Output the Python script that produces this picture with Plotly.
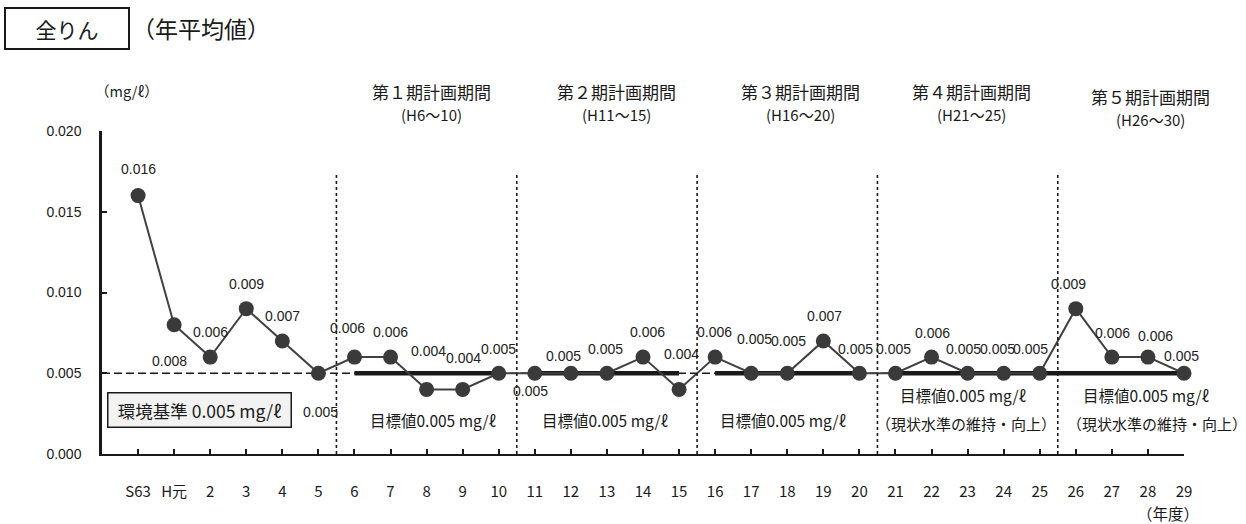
import plotly.graph_objects as go

# ---- data ----
categories = ["S63", "H元"] + [str(i) for i in range(2, 30)]
values = [0.016, 0.008, 0.006, 0.009, 0.007, 0.005, 0.006, 0.006, 0.004, 0.004,
          0.005, 0.005, 0.005, 0.005, 0.006, 0.004, 0.006, 0.005, 0.005, 0.007,
          0.005, 0.005, 0.006, 0.005, 0.005, 0.005, 0.009, 0.006, 0.006, 0.005]
value_labels = ["0.016", "0.008", "0.006", "0.009", "0.007", "0.005", "0.006", "0.006", "0.004", "0.004",
                "0.005", "0.005", "0.005", "0.005", "0.006", "0.004", "0.006", "0.005", "0.005", "0.007",
                "0.005", "0.005", "0.006", "0.005", "0.005", "0.005", "0.009", "0.006", "0.006", "0.005"]
env_standard = 0.005
period_names = ["第１期計画期間", "第２期計画期間", "第３期計画期間", "第４期計画期間", "第５期計画期間"]
period_years = ["(H6～10)", "(H11～15)", "(H16～20)", "(H21～25)", "(H26～30)"]
period_start = [6, 11, 16, 21, 25]
period_end = [10, 15, 20, 25, 29]
period_target = [0.005, 0.005, 0.005, 0.005, 0.005]
target_text = ["目標値0.005 mg/ℓ"] * 5
target_note = ["", "", "", "（現状水準の維持・向上）", "（現状水準の維持・向上）"]
boundaries = [5.5, 10.5, 15.5, 20.5, 25.5]
y_ticks = [0.000, 0.005, 0.010, 0.015, 0.020]
y_ticktext = ["0.000", "0.005", "0.010", "0.015", "0.020"]

# ---- layout geometry (pixels) ----
W, H = 1246, 524
L, R, T, B = 102, 1184, 131, 454


def px(x):
    return (x - L) / (R - L)


def py(y):
    return (B - y) / (B - T)


# label offsets (style, pixels)
label_dx = [0, -5, 0, 0, 0, 2, -7, 0, 2, 1, 0, -4, -7, -1, 4, 2, -1, 3, 1, 1,
            -4, -2, 1, -4, -6, -9, -7, 1, 8, -3]
label_dy = [27, -36, 25, 25, 25, -39, 29, 25, 38, 31, 24, -18, 17, 24, 25, 35, 25, 34, 32, 25,
            24, 24, 24, 24, 24, 24, 25, 24, 21, 17]

NUM = "Liberation Sans, Arial, Noto Sans CJK JP"
JP = "Noto Sans CJK JP, Liberation Sans"
BLACK = "#1a1a1a"

x = list(range(len(categories)))
fig = go.Figure()

fig.add_trace(go.Scatter(x=[-1, len(categories) - 1], y=[env_standard, env_standard],
                         mode="lines", line=dict(color=BLACK, width=1.6, dash="8px,4px"),
                         hoverinfo="skip", cliponaxis=False))
for s, e, t in zip(period_start, period_end, period_target):
    fig.add_trace(go.Scatter(x=[s, e], y=[t, t], mode="lines",
                             line=dict(color=BLACK, width=4.5),
                             hoverinfo="skip", cliponaxis=False))
fig.add_trace(go.Scatter(x=x, y=values, mode="lines+markers",
                         line=dict(color="#404040", width=2),
                         marker=dict(color="#3a3a3a", size=15),
                         cliponaxis=False))

ann = []


def text_at(cx, cy, text, size, family=JP, **kw):
    d = dict(x=px(cx), y=py(cy), xref="paper", yref="paper", text=text, showarrow=False,
             xanchor="center", yanchor="middle", font=dict(family=family, size=size, color=BLACK))
    d.update(kw)
    ann.append(d)


for xi, v, lab, dx, dy in zip(x, values, value_labels, label_dx, label_dy):
    ann.append(dict(x=xi, y=v, text=lab, showarrow=False, xshift=dx, yshift=dy,
                    xanchor="center", yanchor="middle",
                    font=dict(family=NUM, size=14, color="#222")))

# period headers
head_x = [431, 616, 800, 971, 1150]
head_y1 = [92, 92, 92, 92, 96]
head_y2 = [114, 114, 114, 114, 119]
for n, yrs, hx, y1, y2 in zip(period_names, period_years, head_x, head_y1, head_y2):
    text_at(hx, y1, n, 17)
    text_at(hx, y2, yrs, 15)

# target labels
tgt_x = [433, 605, 783, 963, 1146]
tgt_y = [420, 420, 420, 395, 395]
note_x = [0, 0, 0, 966, 1157]
for tt, nt, tx, ty, nx in zip(target_text, target_note, tgt_x, tgt_y, note_x):
    text_at(tx, ty, tt, 15.5)
    if nt:
        text_at(nx, 423, nt, 15)

# environmental standard box
text_at(199, 410, "環境基準 0.005 mg/ℓ", 17.5, width=180, height=31, align="center",
        bgcolor="#f2f2f2", bordercolor=BLACK, borderwidth=1.5, borderpad=1)

# unit labels
text_at(127, 91, "（mg/ℓ）", 14.5)
text_at(1168, 513, "（年度）", 15.5)

# title
text_at(67, 28, "全りん", 21, width=120, height=37, align="center",
        bordercolor=BLACK, borderwidth=2, borderpad=1)
text_at(201, 28, "（年平均値）", 23)

shapes = []
for b in boundaries:
    shapes.append(dict(type="line", x0=b, x1=b, y0=0, y1=py(172), xref="x", yref="paper",
                       line=dict(color=BLACK, width=1.6, dash="dot")))

fig.update_layout(
    width=W, height=H,
    margin=dict(l=L, r=W - R, t=T, b=H - B),
    plot_bgcolor="white", paper_bgcolor="white",
    showlegend=False,
    annotations=ann, shapes=shapes,
    xaxis=dict(range=[-1, len(categories) - 1], tickvals=x, ticktext=categories,
               showgrid=False, zeroline=False, showline=True, linecolor=BLACK, linewidth=2,
               ticks="inside", ticklen=5, tickwidth=1.5, tickcolor=BLACK,
               ticklabelstandoff=23, automargin=False,
               tickfont=dict(family=JP, size=15, color=BLACK)),
    yaxis=dict(range=[0, 0.020], tickvals=y_ticks, ticktext=y_ticktext,
               showgrid=False, zeroline=False, showline=True, linecolor=BLACK, linewidth=2.5,
               ticks="inside", ticklen=5, tickwidth=1.5, tickcolor=BLACK,
               ticklabelstandoff=15, automargin=False,
               tickfont=dict(family=NUM, size=14, color=BLACK)),
)

fig.write_html("out.html", config={"displayModeBar": False},
               post_script="document.body.style.margin='0';document.body.style.overflow='hidden';")
